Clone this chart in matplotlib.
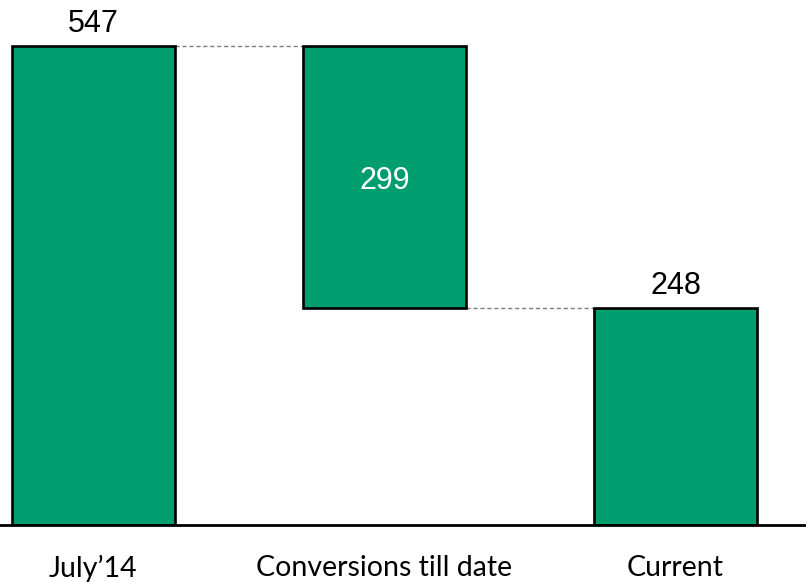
import matplotlib
matplotlib.use("Agg")
import matplotlib.pyplot as plt

categories = ["July\u201914", "Conversions till date", "Current"]
starts = [0, 248, 0]
ends = [547, 547, 248]
labels = ["547", "299", "248"]

GREEN = "#009e6e"

fig = plt.figure(figsize=(8.06, 5.82), dpi=100, facecolor="white")
ax = fig.add_axes([0, 57 / 582, 1, 525 / 582])

x = list(range(len(categories)))
heights = [e - s for s, e in zip(starts, ends)]
width = 0.56
ax.bar(x, heights, bottom=starts, width=width, color=GREEN,
       edgecolor="black", linewidth=1.9, zorder=3)

# dashed connectors between bars
for i in range(len(x) - 1):
    level = ends[i] if i == 0 else starts[i]
    ax.plot([x[i] + width / 2, x[i + 1] - width / 2], [level, level],
            color="#7f7f7f", lw=1, ls=(0, (3, 2)), zorder=2)

# value labels
ax.text(x[0], ends[0] + 8, labels[0], ha="center", va="bottom",
        fontsize=22, family="Liberation Sans", color="black")
ax.text(x[1], (starts[1] + ends[1]) / 2 - 4, labels[1], ha="center", va="center",
        fontsize=22, family="Liberation Sans", color="white")
ax.text(x[2], ends[2] + 8, labels[2], ha="center", va="bottom",
        fontsize=22, family="Liberation Sans", color="black")

ax.set_xlim(-0.321, 2.448)
ax.set_ylim(0, 600)
ax.set_xticks(x)
ax.set_xticklabels(categories, family="Lato", fontsize=20.5)
ax.tick_params(axis="x", length=0, pad=21.5)
ax.set_yticks([])
for s in ("top", "right", "left"):
    ax.spines[s].set_visible(False)
ax.spines["bottom"].set_linewidth(2)
ax.spines["bottom"].set_zorder(4)

fig.savefig("out.png", dpi=100)
